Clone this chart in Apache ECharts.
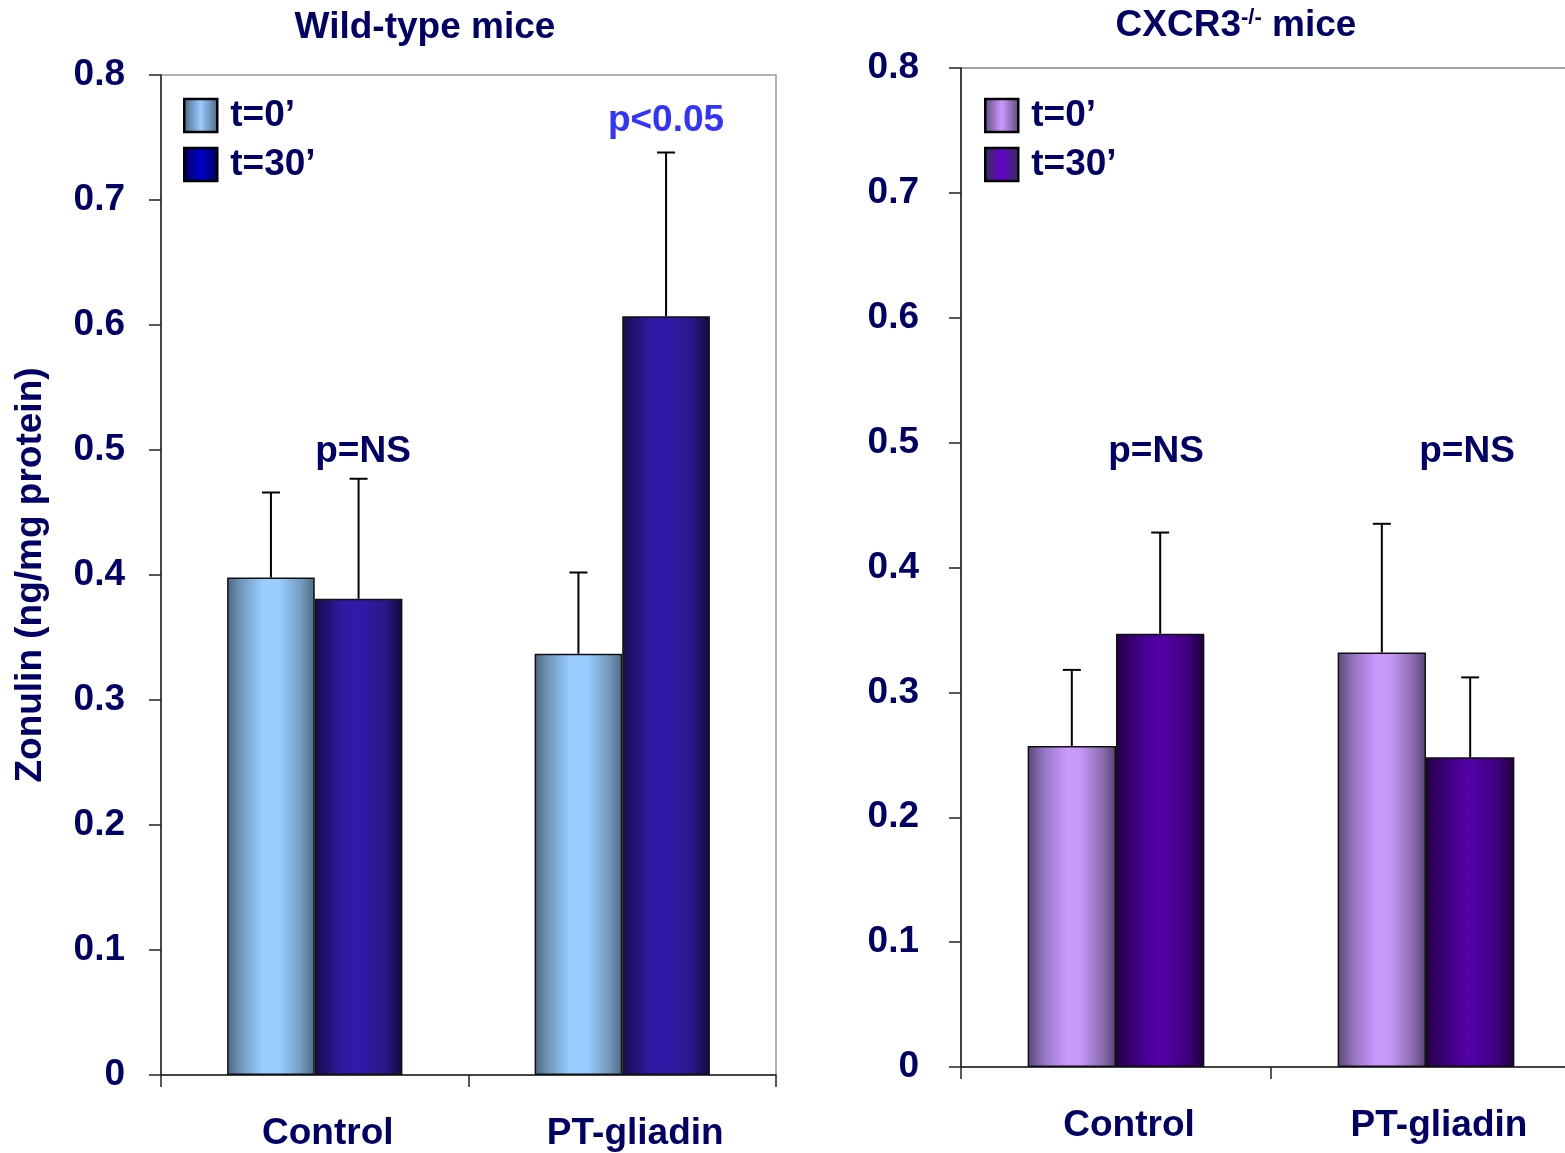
<!DOCTYPE html>
<html><head><meta charset="utf-8">
<script src="https://cdn.jsdelivr.net/npm/echarts@6/dist/echarts.min.js"></script>
<style>html,body{margin:0;padding:0;background:#fff}#c{width:1565px;height:1153px}</style>
</head><body><div id="c"></div>
<script>
var categories = ['Control', 'PT-gliadin'];
var yTicks = [0, 0.1, 0.2, 0.3, 0.4, 0.5, 0.6, 0.7, 0.8];
// Wild-type mice
var wtT0 = [0.398, 0.337];
var wtT30 = [0.381, 0.607];
var wtT0Err = [0.068, 0.065];
var wtT30Err = [0.096, 0.131];
// CXCR3-/- mice
var koT0 = [0.257, 0.332];
var koT30 = [0.347, 0.248];
var koT0Err = [0.061, 0.103];
var koT30Err = [0.081, 0.064];
var legendLabels = ['t=0’', 't=30’'];

var NAVY = '#000066';
var FONT = '"Liberation Sans", Arial, sans-serif';
var FS = 37;
function grad(stops){ return new echarts.graphic.LinearGradient(0,0,1,0, stops.map(function(s){return {offset:s[0], color:s[1]};})); }
var wtC0 = grad([[0,'#4a6580'],[0.15,'#6f95b8'],[0.4,'#99ccff'],[0.6,'#99ccff'],[0.85,'#7399bd'],[1,'#4f6a85']]);
var wtC30 = grad([[0,'#170d4a'],[0.3,'#3019a0'],[0.5,'#3319aa'],[0.8,'#2a1888'],[1,'#120a3c']]);
var koC0 = grad([[0,'#5a4878'],[0.2,'#9a78c8'],[0.45,'#cc99ff'],[0.6,'#c497f5'],[0.85,'#8a6bb0'],[1,'#55446f']]);
var koC30 = grad([[0,'#250048'],[0.3,'#44008c'],[0.5,'#5500aa'],[0.8,'#40007f'],[1,'#200040']]);
var wtL30 = grad([[0,'#000055'],[0.5,'#0000cc'],[1,'#000055']]);
var koL30 = grad([[0,'#333355'],[0.5,'#6600cc'],[1,'#333355']]);

var GAP = 0.43;
function errData(err0, err1, m0, m1){
  var d = [];
  for (var i=0;i<categories.length;i++){ d.push([i, m0[i], err0[i], 0]); d.push([i, m1[i], err1[i], 1]); }
  return d;
}
function renderErr(params, api){
  var cat = api.value(0), mean = api.value(1), sd = api.value(2), k = api.value(3);
  var band = api.size([1,0])[0];
  var bw = band*(1-GAP)/2;
  var x = api.coord([cat, 0])[0] + (k===0 ? -bw/2 : bw/2);
  var y1 = api.coord([cat, mean])[1];
  var y2 = api.coord([cat, mean+sd])[1];
  var st = {stroke:'#000', lineWidth:2};
  return {type:'group', children:[
    {type:'line', shape:{x1:x,y1:y1,x2:x,y2:y2}, style:st},
    {type:'line', shape:{x1:x-9,y1:y2,x2:x+9,y2:y2}, style:st}
  ]};
}
function yAxis(gi, labelMargin, name){
  var a = {type:'value', gridIndex:gi, min:0, max:0.8, interval:0.1,
    axisLine:{show:true, lineStyle:{color:'#222', width:1.5}},
    axisTick:{show:true, inside:false, length:12, lineStyle:{color:'#222', width:1.5}},
    splitLine:{show:false},
    axisLabel:{color:NAVY, fontSize:FS, fontWeight:'bold', fontFamily:FONT, margin:labelMargin,
      formatter:function(v){ return v===0 ? '0' : v.toFixed(1); }}
  };
  if (name){ a.name = name; a.nameLocation='middle'; a.nameGap=112;
    a.nameTextStyle={color:NAVY, fontSize:FS, fontWeight:'bold', fontFamily:FONT}; }
  return a;
}
function xAxis(gi){
  return {type:'category', gridIndex:gi, data:categories,
    axisLine:{show:true, lineStyle:{color:'#222', width:1.5}},
    axisTick:{show:true, length:12, alignWithLabel:false, lineStyle:{color:'#222', width:1.5}},
    axisLabel:{color:NAVY, fontSize:FS, fontWeight:'bold', fontFamily:FONT, margin:40, padding:[0,0,0,26]}};
}
function bar(name, gi, data, color){
  return {type:'bar', barGap:'0%', barCategoryGap:'43%', name:name, xAxisIndex:gi, yAxisIndex:gi, data:data,
    itemStyle:{color:color, borderColor:'#111', borderWidth:1.5}};
}
var labelMap = {wt0:legendLabels[0], wt30:legendLabels[1], ko0:legendLabels[0], ko30:legendLabels[1]};
function legend(left, items){
  return {orient:'vertical', left:left, top:97, padding:0, itemWidth:33, itemHeight:33, itemGap:12,
    icon:'rect', selectedMode:false,
    textStyle:{color:NAVY, fontSize:FS, fontWeight:'bold', fontFamily:FONT, padding:[0,0,0,8]},
    formatter:function(n){ return labelMap[n]; },
    data:items};
}
var chart = echarts.init(document.getElementById('c'), null, {renderer:'canvas'});
chart.setOption({
  backgroundColor:'#fff',
  animation:false,
  title:[
    {text:'Wild-type mice', left:420, top:4, textAlign:'center',
      textStyle:{color:NAVY, fontSize:FS, fontWeight:'bold', fontFamily:FONT}},
    {text:'{a|CXCR3}{s|-/-}{a| mice}', left:1231, top:2, textAlign:'center',
      textStyle:{rich:{a:{color:NAVY, fontSize:FS, fontWeight:'bold', fontFamily:FONT},
        s:{color:NAVY, fontSize:22, fontWeight:'bold', fontFamily:FONT, verticalAlign:'top', padding:[0,0,16,0]}}}}
  ],
  grid:[
    {left:161, width:615, top:75, bottom:78, show:true, borderColor:'#999', borderWidth:1.5, containLabel:false, outerBoundsMode:'none'},
    {left:961, width:620, top:68, bottom:86, show:true, borderColor:'#888', borderWidth:1.5, containLabel:false, outerBoundsMode:'none'}
  ],
  xAxis:[xAxis(0), xAxis(1)],
  yAxis:[yAxis(0, 36, 'Zonulin (ng/mg protein)'), yAxis(1, 42)],
  legend:[
    legend(183, [{name:'wt0', itemStyle:{color:grad([[0,'#4a6580'],[0.5,'#99ccff'],[1,'#4a6580']]), borderColor:'#000', borderWidth:2.5}},
                 {name:'wt30', itemStyle:{color:wtL30, borderColor:'#000', borderWidth:2.5}}]),
    legend(984, [{name:'ko0', itemStyle:{color:grad([[0,'#5a4878'],[0.5,'#cc99ff'],[1,'#5a4878']]), borderColor:'#000', borderWidth:2.5}},
                 {name:'ko30', itemStyle:{color:koL30, borderColor:'#000', borderWidth:2.5}}])
  ],
  series:[
    bar('wt0', 0, wtT0, wtC0),
    bar('wt30', 0, wtT30, wtC30),
    bar('ko0', 1, koT0, koC0),
    bar('ko30', 1, koT30, koC30),
    {type:'custom', name:'wtErr', xAxisIndex:0, yAxisIndex:0, renderItem:renderErr, data:errData(wtT0Err, wtT30Err, wtT0, wtT30), z:5},
    {type:'custom', name:'koErr', xAxisIndex:1, yAxisIndex:1, renderItem:renderErr, data:errData(koT0Err, koT30Err, koT0, koT30), z:5}
  ],
  graphic:[
    {type:'text', x:363, y:452, style:{text:'p=NS', align:'center', verticalAlign:'middle', fill:NAVY, font:'bold '+FS+'px '+FONT}},
    {type:'text', x:666, y:121, style:{text:'p<0.05', align:'center', verticalAlign:'middle', fill:'#3333ff', font:'bold '+FS+'px '+FONT}},
    {type:'text', x:1156, y:452, style:{text:'p=NS', align:'center', verticalAlign:'middle', fill:NAVY, font:'bold '+FS+'px '+FONT}},
    {type:'text', x:1467, y:452, style:{text:'p=NS', align:'center', verticalAlign:'middle', fill:NAVY, font:'bold '+FS+'px '+FONT}}
  ]
});
</script></body></html>
